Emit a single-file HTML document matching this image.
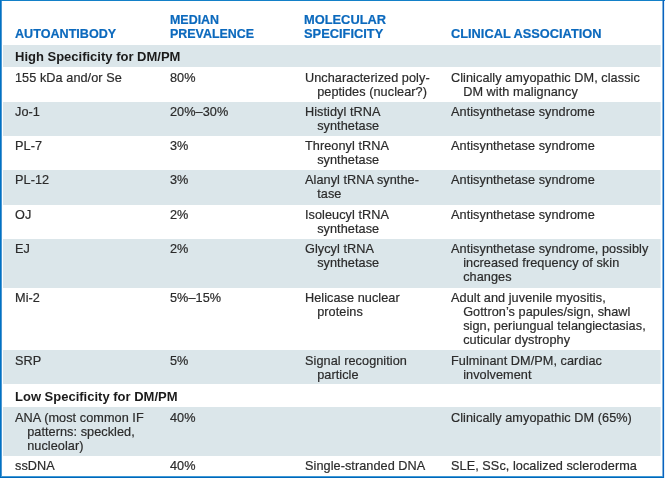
<!DOCTYPE html>
<html><head><meta charset="utf-8"><title>Table</title>
<style>
html,body{margin:0;padding:0;background:#fff;}
body{width:665px;height:478px;position:relative;overflow:hidden;font-family:"Liberation Sans",Arial,Helvetica,sans-serif;font-size:12.7px;line-height:14.0px;color:#2b2b2b;}
.band{position:absolute;left:3px;width:657px;box-shadow:1px 0 0 #e8eef0;}
.t{position:absolute;white-space:nowrap;letter-spacing:0.06px;will-change:transform;-webkit-text-stroke:0.2px #2b2b2b;}
.t div{height:14.0px;}
.t .i{padding-left:12.2px;}
.h{color:#0b69bd;font-weight:bold;letter-spacing:0;font-size:12.6px;-webkit-text-stroke:0.2px #0b69bd;}
.s{font-weight:bold;color:#1a1a1a;letter-spacing:0;font-size:13px;-webkit-text-stroke:0;}
</style></head><body>

<div class="band" style="top:45px;height:22.0px;background:#dbe6ea"></div>
<div class="band" style="top:102px;height:33.5px;background:#dbe6ea"></div>
<div class="band" style="top:170.2px;height:34.5px;background:#dbe6ea"></div>
<div class="band" style="top:239.3px;height:48.3px;background:#dbe6ea"></div>
<div class="band" style="top:350.4px;height:34.0px;background:#dbe6ea"></div>
<div class="band" style="top:407.3px;height:48.7px;background:#dbe6ea"></div>
<div style="position:absolute;left:0;top:0;width:665px;height:1px;background:#1380c8"></div>
<div style="position:absolute;left:0;top:0;width:1px;height:478px;background:#0072c4"></div>
<div style="position:absolute;left:1px;top:1px;width:1px;height:475px;background:#4d97d1"></div>
<div style="position:absolute;left:662px;top:1px;width:1px;height:475px;background:#7fb3dd"></div>
<div style="position:absolute;left:663px;top:0;width:1px;height:478px;background:#0a62c0"></div>
<div style="position:absolute;left:664px;top:1px;width:1px;height:477px;background:#e3eff7"></div>
<div style="position:absolute;left:1px;top:476px;width:662px;height:1px;background:#3f9ad6"></div>
<div style="position:absolute;left:0;top:477px;width:664px;height:1px;background:#0068bb"></div>
<div class="t h" style="left:15.0px;top:27.30px;font-size:12.6px"><div style="height:14px">AUTOANTIBODY</div></div>
<div class="t h" style="left:170.1px;top:13.30px;font-size:12.45px"><div style="height:14px">MEDIAN</div><div style="height:14px">PREVALENCE</div></div>
<div class="t h" style="left:304.4px;top:13.30px;font-size:12.85px"><div style="height:14px">MOLECULAR</div><div style="height:14px">SPECIFICITY</div></div>
<div class="t h" style="left:450.8px;top:27.30px;font-size:12.8px"><div style="height:14px">CLINICAL ASSOCIATION</div></div>
<div class="t s" style="left:15px;top:50.30px"><div>High Specificity for DM/PM</div></div>
<div class="t" style="left:15px;top:70.50px"><div>155 kDa and/or Se</div></div>
<div class="t" style="left:170.0px;top:70.50px"><div>80%</div></div>
<div class="t" style="left:305.3px;top:70.50px"><div>Uncharacterized poly-</div><div class="i">peptides (nuclear?)</div></div>
<div class="t" style="left:450.8px;top:70.50px"><div>Clinically amyopathic DM, classic</div><div class="i">DM with malignancy</div></div>
<div class="t" style="left:15px;top:104.90px"><div>Jo-1</div></div>
<div class="t" style="left:170.0px;top:104.90px"><div>20%–30%</div></div>
<div class="t" style="left:305.3px;top:104.90px"><div>Histidyl tRNA</div><div class="i">synthetase</div></div>
<div class="t" style="left:450.8px;top:104.90px"><div>Antisynthetase syndrome</div></div>
<div class="t" style="left:15px;top:139.00px"><div>PL-7</div></div>
<div class="t" style="left:170.0px;top:139.00px"><div>3%</div></div>
<div class="t" style="left:305.3px;top:139.00px"><div>Threonyl tRNA</div><div class="i">synthetase</div></div>
<div class="t" style="left:450.8px;top:139.00px"><div>Antisynthetase syndrome</div></div>
<div class="t" style="left:15px;top:173.20px"><div>PL-12</div></div>
<div class="t" style="left:170.0px;top:173.20px"><div>3%</div></div>
<div class="t" style="left:305.3px;top:173.20px"><div>Alanyl tRNA synthe-</div><div class="i">tase</div></div>
<div class="t" style="left:450.8px;top:173.20px"><div>Antisynthetase syndrome</div></div>
<div class="t" style="left:15px;top:207.90px"><div>OJ</div></div>
<div class="t" style="left:170.0px;top:207.90px"><div>2%</div></div>
<div class="t" style="left:305.3px;top:207.90px"><div>Isoleucyl tRNA</div><div class="i">synthetase</div></div>
<div class="t" style="left:450.8px;top:207.90px"><div>Antisynthetase syndrome</div></div>
<div class="t" style="left:15px;top:242.30px"><div>EJ</div></div>
<div class="t" style="left:170.0px;top:242.30px"><div>2%</div></div>
<div class="t" style="left:305.3px;top:242.30px"><div>Glycyl tRNA</div><div class="i">synthetase</div></div>
<div class="t" style="left:450.8px;top:242.30px"><div>Antisynthetase syndrome, possibly</div><div class="i">increased frequency of skin</div><div class="i">changes</div></div>
<div class="t" style="left:15px;top:291.00px"><div>Mi-2</div></div>
<div class="t" style="left:170.0px;top:291.00px"><div>5%–15%</div></div>
<div class="t" style="left:305.3px;top:291.00px"><div>Helicase nuclear</div><div class="i">proteins</div></div>
<div class="t" style="left:450.8px;top:291.00px"><div>Adult and juvenile myositis,</div><div class="i">Gottron’s papules/sign, shawl</div><div class="i">sign, periungual telangiectasias,</div><div class="i">cuticular dystrophy</div></div>
<div class="t" style="left:15px;top:353.80px"><div>SRP</div></div>
<div class="t" style="left:170.0px;top:353.80px"><div>5%</div></div>
<div class="t" style="left:305.3px;top:353.80px"><div>Signal recognition</div><div class="i">particle</div></div>
<div class="t" style="left:450.8px;top:353.80px"><div>Fulminant DM/PM, cardiac</div><div class="i">involvement</div></div>
<div class="t s" style="left:15px;top:390.10px"><div>Low Specificity for DM/PM</div></div>
<div class="t" style="left:15px;top:410.70px"><div>ANA (most common IF</div><div class="i">patterns: speckled,</div><div class="i">nucleolar)</div></div>
<div class="t" style="left:170.0px;top:410.70px"><div>40%</div></div>
<div class="t" style="left:450.8px;top:410.70px"><div>Clinically amyopathic DM (65%)</div></div>
<div class="t" style="left:15px;top:458.50px"><div>ssDNA</div></div>
<div class="t" style="left:170.0px;top:458.50px"><div>40%</div></div>
<div class="t" style="left:305.3px;top:458.50px"><div>Single-stranded DNA</div></div>
<div class="t" style="left:450.8px;top:458.50px"><div>SLE, SSc, localized scleroderma</div></div>
</body></html>
